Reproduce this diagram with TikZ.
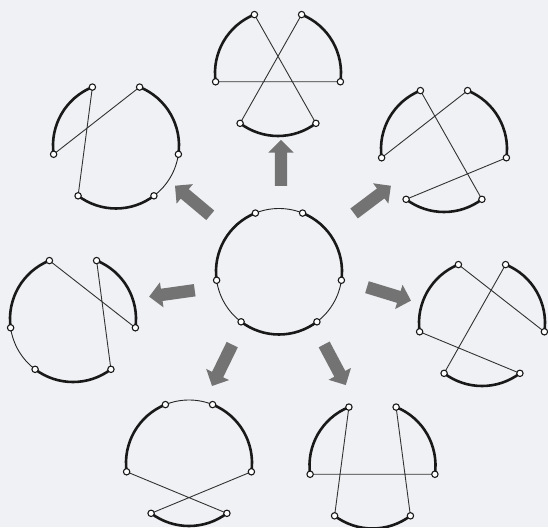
\documentclass[tikz,border=0pt]{standalone}
\usepackage{tikz}
\usetikzlibrary{calc,shapes.arrows}
\definecolor{paper}{RGB}{239,241,244}
\tikzset{
  arcthick/.style={line width=2.6pt,black!90},
  arcthin/.style={line width=0.9pt,black!85},
  link/.style={line width=0.9pt,black!80},
  endpt/.style={line width=1.1pt,draw=black!90,fill=white},
  fatarrow/.style={single arrow,fill=black!55,draw=none,inner sep=6pt,
    minimum height=46pt,single arrow head extend=6.5pt}
}
% one tour: corner points 1..6 and its three fixed segments
\newcommand{\ring}[2]{%
  \coordinate (#1) at #2;
  \foreach \i/\a in {1/112,2/188,3/233,4/307,5/352,6/68}
    \coordinate (#1\i) at ($(#1)+(\a:63pt)$);
  \draw[arcthick] (#11) arc[start angle=112,end angle=188,radius=63pt];
  \draw[arcthick] (#13) arc[start angle=233,end angle=307,radius=63pt];
  \draw[arcthick] (#15) arc[start angle=352,end angle=428,radius=63pt];
}
\begin{document}
\begin{tikzpicture}[x=1pt,y=1pt]
  \fill[paper] (0,0) rectangle (548,527);
  \useasboundingbox (0,0) rectangle (548,527);
  % centre tour
  \ring{mid}{(279,255.5)}
  \draw[arcthin] (mid2) arc[start angle=188,end angle=233,radius=63pt];
  \draw[arcthin] (mid4) arc[start angle=307,end angle=352,radius=63pt];
  \draw[arcthin] (mid6) arc[start angle=68,end angle=112,radius=63pt];
  % the seven exchanges
  \ring{up}{(278,454)}
  \draw[link] (up1)--(up4) (up6)--(up3) (up2)--(up5);
  \ring{upl}{(116,381.5)}
  \draw[arcthin] (upl4) arc[start angle=307,end angle=352,radius=63pt];
  \draw[link] (upl1)--(upl3) (upl2)--(upl6);
  \ring{upr}{(444,378)}
  \draw[link] (upr1)--(upr4) (upr6)--(upr2) (upr5)--(upr3);
  \ring{lft}{(73,208)}
  \draw[arcthin] (lft2) arc[start angle=188,end angle=233,radius=63pt];
  \draw[link] (lft1)--(lft5) (lft6)--(lft4);
  \ring{rgt}{(482,204)}
  \draw[link] (rgt1)--(rgt5) (rgt6)--(rgt3) (rgt2)--(rgt4);
  \ring{dnl}{(189,64)}
  \draw[arcthin] (dnl6) arc[start angle=68,end angle=112,radius=63pt];
  \draw[link] (dnl2)--(dnl4) (dnl5)--(dnl3);
  \ring{dnr}{(372.5,61.5)}
  \draw[link] (dnr1)--(dnr3) (dnr6)--(dnr4) (dnr2)--(dnr5);
  % end points
  \foreach \r in {mid,up,upl,upr,lft,rgt,dnl,dnr}
    \foreach \i in {1,...,6}
      \draw[endpt] (\r\i) circle (3.2pt);
  % arrows
  \node[fatarrow,rotate=90] (a-up) at (281,361) {};
  \node[fatarrow,rotate=140] (a-upl) at (195,324.5) {};
  \node[fatarrow,rotate=37] (a-upr) at (370,325.5) {};
  \node[fatarrow,rotate=188] (a-lft) at (175,234) {};
  \node[fatarrow,rotate=-17] (a-rgt) at (386,234) {};
  \node[fatarrow,rotate=244] (a-dnl) at (223.5,164.5) {};
  \node[fatarrow,rotate=-62] (a-dnr) at (333.5,165) {};
\end{tikzpicture}
\end{document}
